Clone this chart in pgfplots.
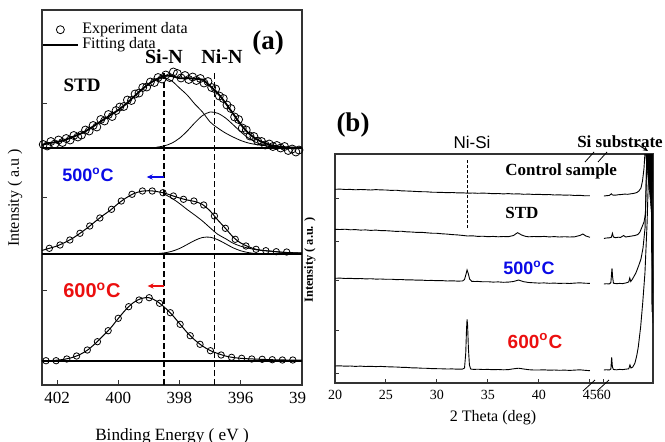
\documentclass[border=0pt]{standalone}
\usepackage{fontspec}
\setmainfont{Liberation Serif}
\setsansfont{Liberation Sans}
\usepackage{pgfplots}
\usepackage{pgfplotstable}
\pgfplotsset{compat=1.18}
\usetikzlibrary{arrows.meta}
\definecolor{tblue}{RGB}{10,10,230}
\definecolor{tred}{RGB}{235,15,15}

% XPS N 1s, heights above each sample's baseline
\pgfplotstableread{
x tot sin nin
402.5 3 3 0
402.25 5 5 0
402 6 6 0
401.75 8 8 0
401.5 11 11 0
401.25 14 14 0
401 18 18 0
400.75 23 23 0
400.5 28 28 0
400.25 33 33 0
400 38 38 0
399.75 44 44 0
399.5 51 51 0
399.25 58 58 0
399 64.2 64 0.2
398.75 68.8 68 0.8
398.5 72.1 70 2.1
398.25 71.9 67 4.9
398 69.8 60 9.8
397.75 69.9 53 16.9
397.5 69.2 44 25.2
397.25 68.4 36 32.4
397 62 26 36
396.75 54.7 20 34.7
396.5 45.1 15 30.1
396.25 34.3 11 23.3
396 23.6 7.5 16.1
395.75 15 5 10
395.5 9.1 3.5 5.6
395.25 5.3 2.5 2.8
395 2.7 1.5 1.2
394.75 1.5 1 0.5
394.5 0.7 0.5 0.2
394.25 0.4 0.3 0.1
394 0.2 0.2 0
}\stdfit

\pgfplotstableread{
x h
402.45 3.5
402.32 2.0
402.2 6.5
402.07 4.0
401.95 8.0
401.82 5.5
401.7 9.5
401.57 8.0
401.45 12.5
401.32 11.0
401.2 13.0
401.07 18.0
400.95 17.0
400.82 22.5
400.7 21.0
400.57 28.5
400.45 27.0
400.32 33.5
400.2 31.5
400.07 37.5
399.95 41.0
399.82 41.5
399.7 48.0
399.57 47.5
399.45 54.0
399.32 55.0
399.2 60.5
399.07 61.0
398.95 66.0
398.82 65.5
398.7 70.5
398.57 69.0
398.45 73.0
398.32 70.5
398.2 76.0
398.07 74.5
397.95 70.0
397.82 72.5
397.7 68.5
397.57 71.0
397.45 67.5
397.32 69.5
397.2 65.0
397.07 66.5
396.95 60.5
396.82 59.0
396.7 52.0
396.57 49.5
396.45 43.0
396.32 39.5
396.2 31.0
396.07 28.5
395.95 20.0
395.82 18.0
395.7 12.0
395.57 11.5
395.45 7.0
395.32 6.5
395.2 3.0
395.07 4.0
394.95 1.5
394.82 2.5
394.7 0.0
394.57 1.5
394.45 -2.5
394.32 -1.0
394.2 -4.0
394.1 -2.0
}\stdexp

\pgfplotstableread{
x tot sin nin
402.5 3.5 3.5 0
402.25 5.7 5.7 0
402 8 8 0
401.75 11.5 11.5 0
401.5 15.5 15.5 0
401.25 20.7 20.7 0
401 26.3 26.3 0
400.75 32.5 32.5 0
400.5 38.5 38.5 0
400.25 44 44 0
400 50.5 50.5 0
399.75 56 56 0
399.5 60.3 60.3 0
399.25 62.7 62.7 0
399 63.3 63.2 0.1
398.75 62.5 62.1 0.4
398.5 61 59.9 1.1
398.25 58.5 55.8 2.7
398 56 50.5 5.5
397.75 54 44.5 9.5
397.5 52.5 38.9 13.6
397.25 49.5 33 16.5
397 43 26.2 16.8
396.75 34 19.7 14.3
396.5 25.7 15.4 10.3
396.25 17 10.8 6.2
396 11 7.8 3.2
395.75 7.3 5.9 1.4
395.5 4.7 4.2 0.5
395.25 3.5 3.35 0.15
395 2.8 2.8 0
394.75 2 2 0
394.5 1.5 1.5 0
394.25 1.2 1.2 0
394 1 1 0
}\fivefit

\pgfplotstableread{
x h
402.25 5.7
401.9 9
401.58 14
401.25 20.7
400.93 28
400.6 36
400.22 44.7
399.9 53
399.55 59.7
399.21 63
398.89 63
398.54 61.3
398.2 58
397.87 54.7
397.53 53
397.21 49
396.86 38
396.5 25.7
396.18 14.7
395.83 8
395.5 4.7
395.18 3.3
394.84 2.3
394.5 2.0
}\fiveexp

\pgfplotstableread{
x tot
402.5 0.2
402.25 0.4
402 0.8
401.75 1.8
401.5 3.5
401.25 6.5
401 11
400.75 17.5
400.5 25
400.25 33
400 42.5
399.75 51.5
399.5 58.5
399.25 62.5
399 63.3
398.75 60
398.5 54
398.25 46.5
398 37.5
397.75 28.5
397.5 21
397.25 15
397 10.5
396.75 7.5
396.5 5
396.25 3.5
396 2.7
395.75 2.2
395.5 1.9
395.25 1.6
395 1.3
394.75 1.1
394.5 1
394.25 1
394 1
}\sixfit

\pgfplotstableread{
x h
402.36 0.3
402.03 0.3
401.68 2
401.36 5
401.01 11
400.68 19.3
400.33 30.3
400.0 42.7
399.66 54.3
399.32 61
398.99 63.3
398.65 57.7
398.30 48.3
397.98 36.7
397.65 25.3
397.33 16.7
396.99 10.3
396.64 6
396.30 3.7
395.97 2.7
395.64 2
395.3 1.7
394.97 1.3
394.64 1.0
394.3 1.0
}\sixexp

\begin{document}
\begin{tikzpicture}
\path[use as bounding box] (0,0) rectangle (332.5pt,220.5pt);

% ---------- (a) XPS ----------
\begin{axis}[
  at={(21pt,28pt)}, anchor=south west, scale only axis,
  width=130pt, height=187.5pt,
  xmin=394, xmax=402.49, ymin=0, ymax=375, x dir=reverse,
  xtick={394,396,398,400,402}, xticklabels={39\phantom{4},396,398,400,402},
  ytick={24,95,131,188,237,282}, yticklabels={},
  xtick pos=lower, ytick pos=left, tick align=inside,
  major tick length=2.5pt, tick style={black!80, line width=0.5pt},
  axis line style={black!80, line width=0.6pt},
  xticklabel style={font=\fontsize{8.5}{9}\selectfont},
  legend style={draw=none, fill=none, at={(0,0.978)}, anchor=north west,
    font=\fontsize{8}{8}\selectfont, row sep=-3.5pt, inner xsep=0pt, inner ysep=0pt},
  legend cell align=left,
]
% STD
\addplot[only marks, mark=o, mark size=2pt, black, mark options={line width=0.4pt}]
  table[x=x, y expr=\thisrow{h}+237] {\stdexp};
\addlegendentry{Experiment data}
\addplot[black, line width=0.9pt, smooth, tension=0.5]
  table[x=x, y expr=\thisrow{tot}+237] {\stdfit};
\addlegendentry{Fitting data}
\addplot[forget plot, black, line width=0.4pt, smooth, tension=0.5]
  table[x=x, y expr=\thisrow{sin}+237] {\stdfit};
\addplot[forget plot, black, line width=0.4pt, smooth, tension=0.5, restrict x to domain=394:398.8]
  table[x=x, y expr=\thisrow{nin}+237] {\stdfit};
\addplot[forget plot, black, line width=1pt] coordinates {(394,237) (402.49,237)};
% 500 C
\addplot[forget plot, black, line width=0.5pt, smooth, tension=0.5]
  table[x=x, y expr=\thisrow{tot}+131] {\fivefit};
\addplot[forget plot, black, line width=0.4pt, smooth, tension=0.5, restrict x to domain=394:398.6]
  table[x=x, y expr=\thisrow{sin}+131] {\fivefit};
\addplot[forget plot, black, line width=0.4pt, smooth, tension=0.5, restrict x to domain=394:399]
  table[x=x, y expr=\thisrow{nin}+131] {\fivefit};
\addplot[forget plot, only marks, mark=o, mark size=1.6pt, black, mark options={line width=0.4pt}]
  table[x=x, y expr=\thisrow{h}+131] {\fiveexp};
\addplot[forget plot, black, line width=0.8pt] coordinates {(394,131) (402.49,131)};
% 600 C
\addplot[forget plot, black, line width=0.5pt, smooth, tension=0.5]
  table[x=x, y expr=\thisrow{tot}+24] {\sixfit};
\addplot[forget plot, only marks, mark=o, mark size=1.6pt, black, mark options={line width=0.4pt}]
  table[x=x, y expr=\thisrow{h}+24] {\sixexp};
\addplot[forget plot, black, line width=0.6pt] coordinates {(394,24) (402.49,24)};
% peak positions and shifts
\draw[black, line width=0.75pt, dash pattern=on 3pt off 1.5pt] (398.5,0) -- (398.5,315);
\draw[black, line width=0.75pt, dash pattern=on 3pt off 1.5pt] (396.85,0) -- (396.85,315);
\draw[tblue, line width=0.7pt, -{Stealth[length=3pt,width=2.6pt]}] (398.5,208) -- (399.07,208);
\draw[tred, line width=0.7pt, -{Stealth[length=3pt,width=2.6pt]}] (398.5,99) -- (399.04,99);
\end{axis}

% ---------- (b) XRD ----------
\begin{axis}[
  at={(167.5pt,29pt)}, anchor=south west, scale only axis,
  width=159pt, height=114.5pt,
  xmin=20, xmax=51.18, ymin=0, ymax=229,
  xtick={20,25,30,35,40,45,46.37}, xticklabels={20,25,30,35,40,45,60},
  ytick={10,53,103,142,185}, yticklabels={},
  xtick pos=lower, ytick pos=left, tick align=inside,
  major tick length=2pt, tick style={black!80, line width=0.5pt},
  axis line style={black!80, line width=0.6pt},
  xticklabel style={font=\fontsize{7}{8}\selectfont},
]
% Si substrate peak top, saturated
\addplot[black, fill=black, line width=0.3pt] coordinates {
(50.45,229) (51.15,229) (51.12,195) (51.02,170) (50.9,185) (50.7,205) (50.45,229)};
% control sample
\addplot[black, line width=0.45pt] coordinates {
(20,193.7) (20.5,193.9) (21,193.5) (21.5,193.6) (22,193.2) (22.5,193.5) (23,193.3) (23.5,193.0)
(24,193.4) (24.5,193.1) (25,193.0) (25.5,192.6) (26,192.8) (26.5,192.2) (27,192.0) (27.5,191.8)
(28,191.5) (28.5,191.3) (29,191.2) (29.5,190.8) (30,190.7) (30.5,190.6) (31,190.3) (31.5,190.5)
(32,190.1) (32.5,190.2) (33,189.8) (33.5,190.0) (34,189.7) (34.5,189.9) (35,189.7) (35.5,189.3)
(36,189.5) (36.5,189.1) (37,189.4) (37.5,189.0) (38,189.2) (38.5,188.7) (39,188.9) (39.5,188.5)
(40,188.7) (40.5,188.3) (41,188.5) (41.5,188.0) (42,188.2) (42.5,187.8) (43,188.0) (43.5,187.5)
(44,187.7) (44.5,187.2) (45,187.3)};
\addplot[black, line width=0.45pt] coordinates {
(46.37,187.0) (46.6,187.3) (46.9,187.6) (47.1,189.2) (47.2,188.0) (47.5,187.8) (47.8,188.3)
(48.1,188.5) (48.4,188.9) (48.7,188.7) (49.0,189.2) (49.3,189.6) (49.6,190.5) (49.8,192.0)
(50.0,195) (50.15,202) (50.3,215) (50.45,240) (51.05,240) (51.12,120) (51.18,60)};
% STD
\addplot[black, line width=0.45pt] coordinates {
(20,153.7) (20.5,153.5) (21,153.8) (21.5,153.2) (22,153.4) (22.5,152.9) (23,153.1) (23.5,152.6)
(24,152.9) (24.5,152.4) (25,152.3) (25.5,152.0) (26,151.6) (26.5,151.8) (27,151.2) (27.5,151.0)
(28,150.6) (28.5,150.7) (29,150.2) (29.5,149.8) (30,149.7) (30.5,149.2) (31,148.9) (31.5,148.4)
(32,148.1) (32.5,147.6) (33,147.0) (33.5,147.2) (34,146.6) (34.5,146.8) (35,146.3) (35.5,146.6)
(36,146.2) (36.5,146.5) (37,146.3) (37.5,147.5) (37.9,150.3) (38.3,148.0) (38.7,146.6) (39,146.2)
(39.5,146.5) (40,146.3) (40.5,146.6) (41,146.1) (41.5,146.4) (42,146.0) (42.5,146.3) (43,146.0)
(43.5,146.2) (44,147.5) (44.3,149.0) (44.6,147.0) (45,145.7)};
\addplot[black, line width=0.45pt] coordinates {
(46.37,144.5) (46.6,145.0) (46.9,145.2) (47.1,145.8) (47.2,149.7) (47.3,146.0) (47.5,145.3)
(47.8,145.8) (48.0,145.6) (48.3,147.5) (48.5,146.0) (48.8,146.5) (49.1,147.0) (49.4,147.5)
(49.7,148.5) (49.9,151) (50.1,156) (50.3,161) (50.45,170) (50.6,240) (51.0,240) (51.1,130) (51.18,90)};
% 500 C
\addplot[black, line width=0.45pt] coordinates {
(20,104.7) (20.5,104.9) (21,104.5) (21.5,104.7) (22,104.3) (22.5,104.5) (23,104.1) (23.5,104.3)
(24,103.9) (24.5,104.0) (25,103.7) (25.5,103.8) (26,103.4) (26.5,103.5) (27,103.1) (27.5,103.2)
(28,102.8) (28.5,102.9) (29,102.5) (29.5,102.6) (30,102.3) (30.5,102.4) (31,102.0) (31.5,102.2)
(32,101.9) (32.5,102.0) (32.7,103.5) (32.85,109.0) (32.95,113.0) (33.05,110.0) (33.2,104.0)
(33.4,101.7) (33.7,101.5) (34,101.6) (34.5,101.2) (35,101.3) (35.5,100.9) (36,101.1) (36.5,100.7)
(37,100.9) (37.5,101.5) (38,103.0) (38.5,101.3) (39,100.5) (39.5,100.2) (40,99.9) (40.5,100.1)
(41,99.7) (41.5,99.9) (42,99.6) (42.5,99.8) (43,99.5) (43.5,99.9) (44,100.2) (44.5,99.8) (45,99.6)};
\addplot[black, line width=0.45pt] coordinates {
(46.37,99.0) (46.6,99.3) (46.9,99.0) (47.05,100.5) (47.12,110) (47.16,114.7) (47.22,106)
(47.3,99.8) (47.6,99.3) (47.9,99.6) (48.2,99.4) (48.5,100.0) (48.8,101.0) (48.9,105.0)
(49.0,101.5) (49.2,104.5) (49.5,110) (49.8,118) (50.0,124) (50.2,135) (50.4,155) (50.6,240)
(51.0,240) (51.08,140) (51.18,100)};
% 600 C
\addplot[black, line width=0.45pt] coordinates {
(20,17.0) (20.5,17.2) (21,16.8) (21.5,17.0) (22,16.6) (22.5,16.9) (23,16.5) (23.5,16.7)
(24,16.4) (24.5,16.6) (25,16.3) (25.5,16.1) (26,16.0) (26.5,15.7) (27,15.6) (27.5,15.2)
(28,15.1) (28.5,14.8) (29,14.7) (29.5,14.4) (30,14.3) (30.5,14.2) (31,14.0) (31.5,14.1)
(32,13.8) (32.5,13.9) (32.7,15.0) (32.82,30.0) (32.9,55.0) (32.95,63.7) (33.0,58.0) (33.08,35.0)
(33.18,18.0) (33.3,14.0) (33.6,13.6) (34,13.8) (34.5,13.5) (35,13.6) (35.5,13.3) (36,13.5)
(36.5,13.2) (37,13.4) (37.5,14.2) (38,14.8) (38.5,14.0) (39,13.3) (39.5,13.0) (40,13.0)
(40.5,13.2) (41,12.8) (41.5,13.0) (42,12.7) (42.5,12.9) (43,12.6) (43.5,12.9) (44,13.2)
(44.5,12.7) (45,12.3)};
\addplot[black, line width=0.45pt] coordinates {
(46.37,13.0) (46.6,13.3) (46.9,13.0) (47.05,14.0) (47.1,22.0) (47.13,25.7) (47.2,16.0)
(47.3,13.5) (47.6,13.2) (47.9,13.6) (48.2,13.4) (48.5,13.8) (48.8,14.2) (48.92,18.0)
(49.02,15.0) (49.2,16.0) (49.41,20.0) (49.6,28.0) (49.74,36.3) (49.97,56.3) (50.17,80.0)
(50.39,110.0) (50.6,160) (50.8,230) (51.0,240) (51.08,71)};
% Ni-Si position
\draw[black, line width=0.4pt, dash pattern=on 1.5pt off 1pt] (32.94,155) -- (32.94,225);
\end{axis}

% ---------- labels (pixel grid of the reference) ----------
\begin{scope}[x=0.5pt, y=-0.5pt, yshift=220.5pt]
\node[font=\bfseries\fontsize{13.5}{14}\selectfont] at (268,43) {(a)};
\node[font=\bfseries\fontsize{10}{11}\selectfont] at (164,57) {Si-N};
\node[font=\bfseries\fontsize{10}{11}\selectfont] at (222,57) {Ni-N};
\node[font=\bfseries\fontsize{9.5}{10}\selectfont] at (82,85) {STD};
\node[font=\sffamily\bfseries\fontsize{9}{10}\selectfont, text=tblue] at (88,175) {500\textsuperscript{o}C};
\node[font=\sffamily\bfseries\fontsize{10}{11}\selectfont, text=tred] at (92,290) {600\textsuperscript{o}C};
\node[font=\fontsize{8}{9}\selectfont, rotate=90] at (15,198) {Intensity ( a.u )};
\node[font=\fontsize{8.6}{9}\selectfont] at (172,436) {Binding Energy ( eV )};

\node[font=\bfseries\fontsize{13.5}{14}\selectfont] at (353,125) {(b)};
\node[font=\sffamily\fontsize{8.5}{9}\selectfont] at (472,142) {Ni-Si};
\node[font=\bfseries\fontsize{8.5}{9}\selectfont] at (620,142) {Si substrate};
\node[font=\bfseries\fontsize{8.5}{9}\selectfont, anchor=west, inner xsep=0pt] at (505,171) {Control sample};
\node[font=\bfseries\fontsize{8.5}{9}\selectfont, anchor=west, inner xsep=0pt] at (505,213) {STD};
\node[font=\sffamily\bfseries\fontsize{9}{10}\selectfont, text=tblue] at (529,268) {500\textsuperscript{o}C};
\node[font=\sffamily\bfseries\fontsize{9.5}{10}\selectfont, text=tred] at (535,341) {600\textsuperscript{o}C};
\node[font=\bfseries\fontsize{6.2}{7}\selectfont, rotate=90] at (310,260) {Intensity ( a.u. )};
\node[font=\fontsize{8}{9}\selectfont] at (493,418) {2 Theta (deg)};
\draw[line width=0.5pt, -{Stealth[length=2.5pt,width=2.2pt]}] (637,144) -- (648,151);
\draw[line width=0.4pt] (585,162) -- (594,152);
\draw[line width=0.4pt] (598,162) -- (607,152);
\draw[line width=0.4pt] (583,391) -- (595,380);
\draw[line width=0.4pt] (597,391) -- (609,380);
\end{scope}
\end{tikzpicture}
\end{document}
